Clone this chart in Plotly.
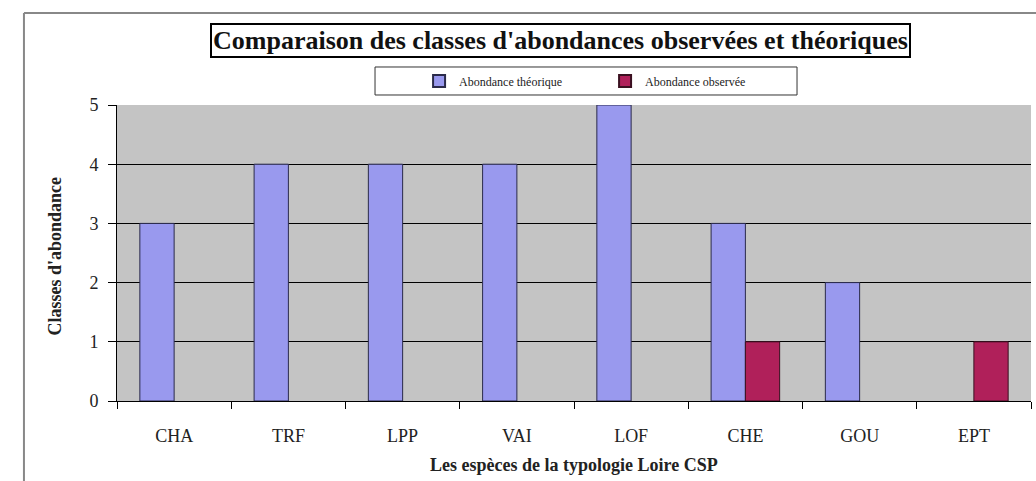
import plotly.graph_objects as go

especes = ["CHA", "TRF", "LPP", "VAI", "LOF", "CHE", "GOU", "EPT"]
abondance_theorique = [3, 4, 4, 4, 5, 3, 2, 0]
abondance_observee = [0, 0, 0, 0, 0, 1, 0, 1]

serif = "Liberation Serif"


def contour(valeurs):
    # no outline on empty bars
    return [1 if v else 0 for v in valeurs]


fig = go.Figure()
fig.add_trace(go.Bar(
    x=especes, y=abondance_theorique, name="Abondance théorique",
    marker=dict(color="#9999ee",
                line=dict(color="#2a2a4a", width=contour(abondance_theorique))),
))
fig.add_trace(go.Bar(
    x=especes, y=abondance_observee, name="Abondance observée",
    marker=dict(color="#b0205a",
                line=dict(color="#3a1020", width=contour(abondance_observee))),
))

fig.update_layout(
    width=1036, height=481,
    margin=dict(l=117, r=5, t=105, b=80),
    paper_bgcolor="white",
    plot_bgcolor="#c4c4c4",
    barmode="group",
    bargap=0.4,
    bargroupgap=0,
    font=dict(family=serif, color="#222"),
    showlegend=True,
    legend=dict(
        orientation="h", x=0.534, y=1.081, xanchor="center", yanchor="middle",
        bgcolor="rgba(0,0,0,0)", font=dict(size=12, family=serif),
        itemwidth=30, entrywidth=141, itemsizing="constant",
    ),
    xaxis=dict(
        type="category", tickson="boundaries", ticks="outside", ticklen=7,
        tickcolor="black", showline=True, linecolor="black", linewidth=1,
        tickfont=dict(size=18, family=serif, color="#222"),
        ticklabelstandoff=18, showgrid=False, range=[-0.5, 7.5],
    ),
    yaxis=dict(
        range=[0, 5], dtick=1, ticks="outside", ticklen=8, tickcolor="black",
        showline=True, linecolor="black", linewidth=1,
        showgrid=True, gridcolor="black", gridwidth=1,
        tickfont=dict(size=18, family=serif, color="#222"),
        ticklabelstandoff=6, zeroline=False,
    ),
    shapes=[
        # outer chart frame
        dict(type="line", xref="paper", yref="paper", x0=-0.1018, x1=-0.1018,
             y0=1.3108, y1=-0.3, line=dict(color="#888", width=2)),
        dict(type="line", xref="paper", yref="paper", x0=-0.1018, x1=1.01,
             y0=1.3108, y1=1.3108, line=dict(color="#888", width=2)),
        # legend box
        dict(type="rect", xref="paper", yref="paper", x0=0.2823, x1=0.7440,
             y0=1.0338, y1=1.1284, line=dict(color="#333", width=1),
             fillcolor="white", layer="below"),
    ],
    annotations=[
        dict(text="<b>Comparaison des classes d'abondances observées et théoriques</b>",
             xref="paper", yref="paper", x=0.4852, y=1.218, showarrow=False,
             font=dict(size=26, family=serif, color="#111"),
             bordercolor="black", borderwidth=2, borderpad=1, bgcolor="white",
             xanchor="center", yanchor="middle"),
        dict(text="<b>Classes d'abondance</b>", xref="paper", yref="paper",
             x=-0.0684, y=0.49, textangle=-90, showarrow=False,
             font=dict(size=18, family=serif, color="#222"),
             xanchor="center", yanchor="middle"),
        dict(text="<b>Les espèces de la typologie Loire CSP</b>", xref="paper",
             yref="paper", x=0.5, y=-0.216, showarrow=False,
             font=dict(size=18, family=serif, color="#222"),
             xanchor="center", yanchor="middle"),
    ],
)

fig.write_html("out.html")
